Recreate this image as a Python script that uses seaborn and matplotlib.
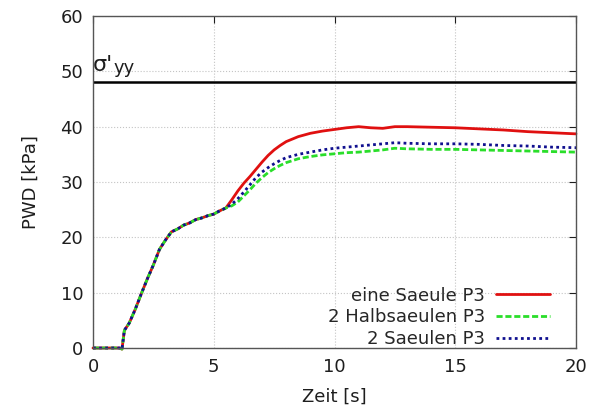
import matplotlib
matplotlib.use("Agg")
import matplotlib.pyplot as plt
import seaborn as sns
import pandas as pd

# shared start of all three curves
t_start = [0, 1.1, 1.2, 1.3, 1.5, 1.75, 2.0, 2.25, 2.5, 2.75, 3.0, 3.25, 3.5, 3.75,
           4.0, 4.25, 4.5, 4.75, 5.0, 5.25, 5.5]
v_start = [0, 0, -0.2, 3.2, 4.5, 7.0, 9.8, 12.5, 15.0, 17.8, 19.5, 21.0, 21.5, 22.2,
           22.6, 23.2, 23.5, 23.9, 24.2, 24.8, 25.3]

t_rest = [5.75, 6.0, 6.25, 6.5, 6.75, 7.0, 7.25, 7.5, 7.75, 8.0, 8.5, 9.0, 9.5, 10.0,
          10.5, 11.0, 11.5, 12.0, 12.5, 13, 14, 15, 16, 17, 18, 19, 20]
red_rest = [26.8, 28.4, 29.8, 31.0, 32.3, 33.6, 34.8, 35.8, 36.6, 37.3, 38.2, 38.8, 39.2,
            39.5, 39.8, 40.0, 39.8, 39.7, 40.0, 40.0, 39.9, 39.8, 39.6, 39.4, 39.1, 38.9, 38.7]
green_rest = [25.7, 26.4, 27.5, 28.6, 29.8, 30.8, 31.7, 32.4, 33.0, 33.5, 34.2, 34.6, 34.9,
              35.1, 35.3, 35.4, 35.6, 35.8, 36.1, 36.0, 35.9, 35.9, 35.8, 35.7, 35.6, 35.5, 35.4]
blue_rest = [26.0, 27.0, 28.2, 29.5, 30.8, 31.8, 32.6, 33.3, 33.9, 34.4, 35.0, 35.4, 35.8,
             36.1, 36.3, 36.5, 36.7, 36.9, 37.1, 37.0, 36.9, 36.9, 36.8, 36.6, 36.5, 36.3, 36.2]

series_names = ["eine Saeule P3", "2 Halbsaeulen P3", "2 Saeulen P3"]
series_vals = [red_rest, green_rest, blue_rest]
series_colors = ["#e01010", "#2ade2a", "#10108f"]
series_styles = ["-", (0, (2.2, 1.0)), (0, (1.0, 1.2))]

sigma_yy = 48
x_ticks = [0, 5, 10, 15, 20]
y_ticks = [0, 10, 20, 30, 40, 50, 60]

sns.set_style("white")
plt.rcParams["font.family"] = ["DejaVu Sans"]

FS = 13
TXT = "#1e1e1e"

fig = plt.figure(figsize=(5.9, 4.15), dpi=100)
ax = fig.add_axes([93 / 590, 67 / 415, 483 / 590, 332 / 415])

for name, vals, col, ls in zip(series_names, series_vals, series_colors, series_styles):
    df = pd.DataFrame({"t": t_start + t_rest, "v": v_start + vals})
    sns.lineplot(data=df, x="t", y="v", ax=ax, color=col, lw=2.0, label=name,
                 estimator=None, sort=False)
    ax.lines[-1].set_linestyle(ls)
    ax.lines[-1].set_clip_on(False)

ax.axhline(sigma_yy, color="black", lw=1.8)
ax.text(0.0, sigma_yy + 2.1, "σ'", fontsize=16, color=TXT)
ax.text(0.85, sigma_yy + 1.7, "yy", fontsize=13, color=TXT)

ax.set_xlim(0, 20)
ax.set_ylim(0, 60)
ax.set_xticks(x_ticks)
ax.set_yticks(y_ticks)
ax.grid(True, color="#c4c4c4", ls=":", lw=0.8)
ax.set_axisbelow(True)
ax.tick_params(direction="in", length=5, width=0.8, top=True, right=True,
               labelsize=FS, colors=TXT, pad=7)
for s in ax.spines.values():
    s.set_color("#555555")
    s.set_linewidth(1.0)
ax.set_xlabel("Zeit [s]", fontsize=FS, color=TXT, labelpad=9)
ax.set_ylabel("PWD [kPa]", fontsize=FS, color=TXT, labelpad=15)

leg = ax.legend(loc="lower right", bbox_to_anchor=(0.946, 0.0), frameon=False,
                markerfirst=False, fontsize=FS, handlelength=3.0, handletextpad=0.6,
                labelspacing=0.2, borderpad=0, borderaxespad=0)

fig.savefig("out.png", dpi=100)
